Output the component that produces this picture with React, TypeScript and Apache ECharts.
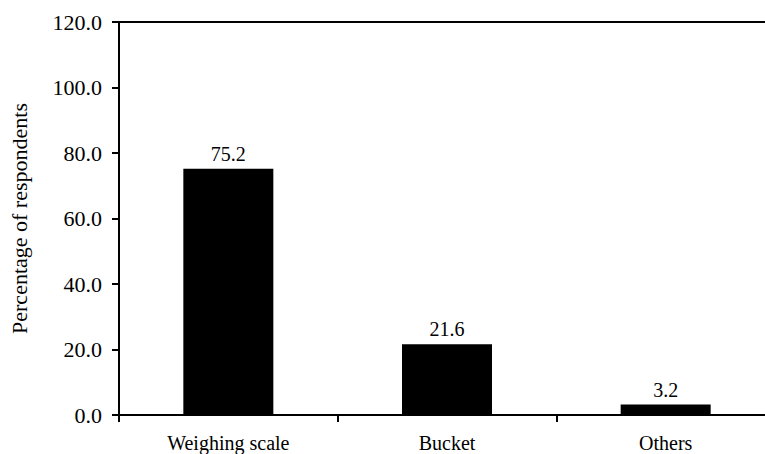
import React, { useEffect, useRef } from "react";
import * as echarts from "echarts";

const categories = ["Weighing scale", "Bucket", "Others"];
const values = [75.2, 21.6, 3.2];
const yTicks = [0, 20, 40, 60, 80, 100, 120];

export default function App() {
  const ref = useRef<HTMLDivElement>(null);
  useEffect(() => {
    if (!ref.current) return;
    const chart = echarts.init(ref.current, undefined, { renderer: "svg" });
    const font = "Liberation Serif";
    chart.setOption({
      animation: false,
      backgroundColor: "#ffffff",
      textStyle: { fontFamily: font },
      grid: {
        left: 115,
        right: 0,
        top: 22,
        height: 393,
        show: true,
        borderColor: "#000",
        borderWidth: 2,
        backgroundColor: "transparent",
      },
      xAxis: {
        type: "category",
        data: categories,
        axisLine: { lineStyle: { color: "#000", width: 2 } },
        axisTick: { show: true, length: 7, lineStyle: { color: "#000", width: 2 }, alignWithLabel: false },
        axisLabel: { color: "#000", fontFamily: font, fontSize: 20, margin: 18 },
      },
      yAxis: {
        type: "value",
        min: yTicks[0],
        max: yTicks[yTicks.length - 1],
        interval: 20,
        name: "Percentage of respondents",
        nameLocation: "middle",
        nameGap: 89,
        nameTextStyle: { color: "#000", fontFamily: font, fontSize: 22 },
        axisLine: { show: true, lineStyle: { color: "#000", width: 2 } },
        axisTick: { show: true, length: 7, lineStyle: { color: "#000", width: 2 } },
        splitLine: { show: false },
        axisLabel: {
          color: "#000",
          fontFamily: font,
          fontSize: 22,
          margin: 17,
          formatter: (v: number) => v.toFixed(1),
        },
      },
      series: [
        {
          type: "bar",
          data: values,
          barWidth: 90,
          itemStyle: { color: "#000" },
          label: {
            show: true,
            position: "top",
            distance: 5,
            color: "#000",
            fontFamily: font,
            fontSize: 20,
            formatter: (p: any) => p.value.toFixed(1),
          },
        },
      ],
    });
    return () => chart.dispose();
  }, []);
  return (
    <div
      style={{
        position: "fixed",
        left: 0,
        top: 0,
        width: 765,
        height: 454,
        overflow: "hidden",
        background: "#fff",
      }}
    >
      <div ref={ref} style={{ width: 775, height: 454 }} />
    </div>
  );
}
